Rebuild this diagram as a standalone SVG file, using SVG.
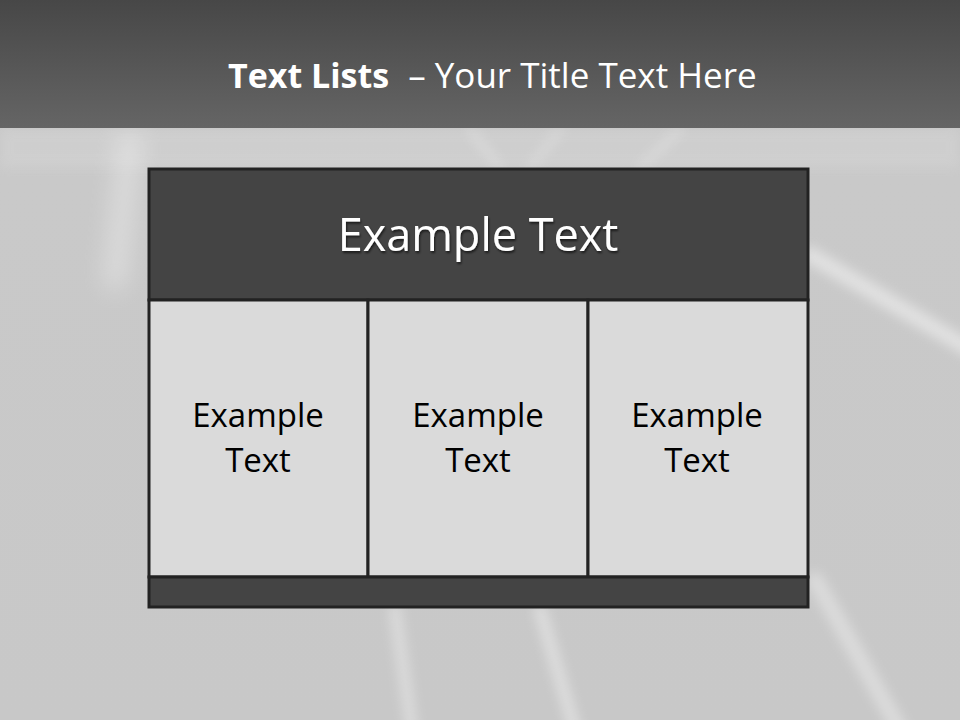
<svg xmlns="http://www.w3.org/2000/svg" width="960" height="720" viewBox="0 0 960 720">
<defs>
<linearGradient id="hdr" x1="0" y1="0" x2="0" y2="1">
<stop offset="0" stop-color="#474747"/>
<stop offset="1" stop-color="#656565"/>
</linearGradient>
<linearGradient id="bg" x1="0" y1="0" x2="0" y2="1">
<stop offset="0" stop-color="#c4c4c4"/>
<stop offset="0.25" stop-color="#c9c9c9"/>
<stop offset="1" stop-color="#c8c8c8"/>
</linearGradient>
<filter id="blur" filterUnits="userSpaceOnUse" x="0" y="0" width="960" height="720"><feGaussianBlur stdDeviation="6"/></filter>
<filter id="blur2" filterUnits="userSpaceOnUse" x="0" y="0" width="960" height="720"><feGaussianBlur stdDeviation="12"/></filter>
<filter id="sh" x="-10%" y="-10%" width="120%" height="130%"><feDropShadow dx="1" dy="2" stdDeviation="1" flood-color="#000" flood-opacity="0.6"/></filter>
</defs>
<style>
.title{font-family:"Open Sans","Noto Sans",sans-serif;fill:#ffffff}
.hd{font-family:"Open Sans","Noto Sans",sans-serif;font-size:45px;fill:#ffffff;text-anchor:middle}
.cell{font-family:"Open Sans","Noto Sans",sans-serif;font-size:33px;fill:#000000;text-anchor:middle}
.dark{fill:#444444;stroke:#222222;stroke-width:3}
.light{fill:#dadada;stroke:#222222;stroke-width:3}
</style>
<g id="background">
<rect x="0" y="0" width="960" height="720" fill="url(#bg)"/>
<g stroke="#ffffff" fill="none" stroke-linecap="round">
<line x1="810" y1="255" x2="980" y2="355" stroke-width="16" opacity="0.45" filter="url(#blur)"/>
<line x1="540" y1="610" x2="575" y2="730" stroke-width="12" opacity="0.4" filter="url(#blur)"/>
<line x1="395" y1="610" x2="412" y2="730" stroke-width="12" opacity="0.35" filter="url(#blur)"/>
<line x1="815" y1="580" x2="900" y2="730" stroke-width="16" opacity="0.35" filter="url(#blur)"/>
<line x1="130" y1="140" x2="115" y2="280" stroke-width="20" opacity="0.4" filter="url(#blur2)"/>
<line x1="470" y1="130" x2="500" y2="168" stroke-width="5" opacity="0.35" filter="url(#blur)"/>
<line x1="680" y1="130" x2="640" y2="168" stroke-width="5" opacity="0.35" filter="url(#blur)"/>
<line x1="560" y1="130" x2="530" y2="168" stroke-width="5" opacity="0.3" filter="url(#blur)"/>
<rect x="0" y="128" width="960" height="40" fill="#ffffff" stroke="none" opacity="0.12" filter="url(#blur)"/>
</g>
<rect x="0" y="0" width="960" height="128" fill="url(#hdr)"/>
</g>
<g id="title">
<text x="228" y="88" class="title"><tspan font-weight="bold" font-size="34">Text Lists</tspan><tspan font-size="35" dx="19">– Your Title Text Here</tspan></text>
</g>
<g id="table">
<g id="header"><rect class="dark" x="149" y="169" width="659" height="131"/><text class="hd" x="478" y="251" filter="url(#sh)">Example Text</text></g>
<g id="cell1"><rect class="light" x="149" y="300" width="219" height="277"/><text class="cell" x="258" y="427">Example</text><text class="cell" x="258" y="472">Text</text></g>
<g id="cell2"><rect class="light" x="368" y="300" width="220" height="277"/><text class="cell" x="478" y="427">Example</text><text class="cell" x="478" y="472">Text</text></g>
<g id="cell3"><rect class="light" x="588" y="300" width="220" height="277"/><text class="cell" x="697" y="427">Example</text><text class="cell" x="697" y="472">Text</text></g>
<g id="footer"><rect class="dark" x="149" y="577" width="659" height="30"/></g>
</g>
<g id="connectors"/>
</svg>
